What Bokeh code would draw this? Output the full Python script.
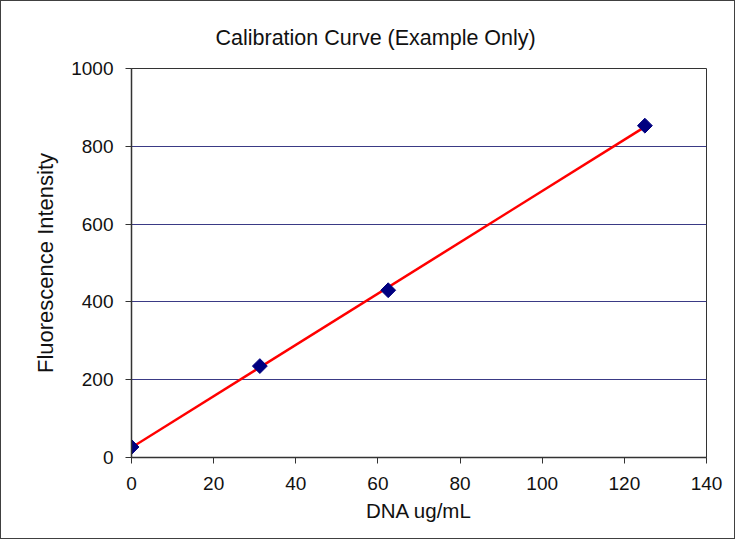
import numpy as np
from bokeh.plotting import figure
from bokeh.models import Range1d, FixedTicker
from bokeh.embed import file_html
from bokeh.resources import INLINE

# data
dna = [0, 31.25, 62.5, 125]
fluor = [27, 235, 430, 853]
x_ticks = [0, 20, 40, 60, 80, 100, 120, 140]
y_ticks = [0, 200, 400, 600, 800, 1000]
title_text = "Calibration Curve (Example Only)"
x_label = "DNA ug/mL"
y_label = "Fluorescence Intensity"

FONT = "Liberation Sans"

p = figure(width=735, height=539, output_backend="svg", toolbar_location=None,
           x_range=Range1d(0, 140), y_range=Range1d(0, 1000),
           min_border_left=130, min_border_right=30, min_border_top=67, min_border_bottom=83)
p.styles = {"border": "1px solid #404040"}
p.background_fill_color = "white"
p.border_fill_color = "white"
p.outline_line_color = "#333333"
p.outline_line_width = 1

p.title.text = title_text
p.title.align = "left"
p.title.vertical_align = "top"
p.title.offset = 84
p.title.standoff = 33
p.title.text_font = FONT
p.title.text_font_size = "21.5px"
p.title.text_font_style = "normal"
p.title.text_color = "#111111"

# trend line from least squares of the data
slope, intercept = np.polyfit(dna, fluor, 1)
xs = [min(dna), max(dna)]
p.line(xs, [intercept + slope * v for v in xs], line_color="#ff0000", line_width=2.5)
p.scatter(dna, fluor, marker="square", angle=np.pi / 4, size=10.5,
          fill_color="#000080", line_color="#000080")

p.xgrid.visible = False
p.ygrid.grid_line_color = "#3a3a85"
p.ygrid.grid_line_width = 1
p.ygrid.ticker = FixedTicker(ticks=y_ticks)

for ax in (p.xaxis[0], p.yaxis[0]):
    ax.axis_line_color = "#333333"
    ax.axis_line_width = 1.5
    ax.major_tick_line_color = "#333333"
    ax.major_tick_line_width = 1
    ax.major_tick_out = 6
    ax.major_tick_in = 0
    ax.minor_tick_line_color = None
    ax.major_label_text_font = FONT
    ax.major_label_text_font_size = "19px"
    ax.major_label_text_color = "#111111"
    ax.axis_label_text_font = FONT
    ax.axis_label_text_font_style = "normal"
    ax.axis_label_text_color = "#111111"

p.xaxis[0].axis_label_text_font_size = "20.5px"
p.yaxis[0].axis_label_text_font_size = "22px"
p.xaxis[0].ticker = FixedTicker(ticks=x_ticks)
p.yaxis[0].ticker = FixedTicker(ticks=y_ticks)
p.xaxis[0].axis_label = x_label
p.yaxis[0].axis_label = y_label
p.xaxis[0].major_label_standoff = 13
p.yaxis[0].major_label_standoff = 12
p.xaxis[0].axis_label_standoff = 6
p.yaxis[0].axis_label_standoff = 10

open("out.html", "w").write(file_html(p, INLINE))
